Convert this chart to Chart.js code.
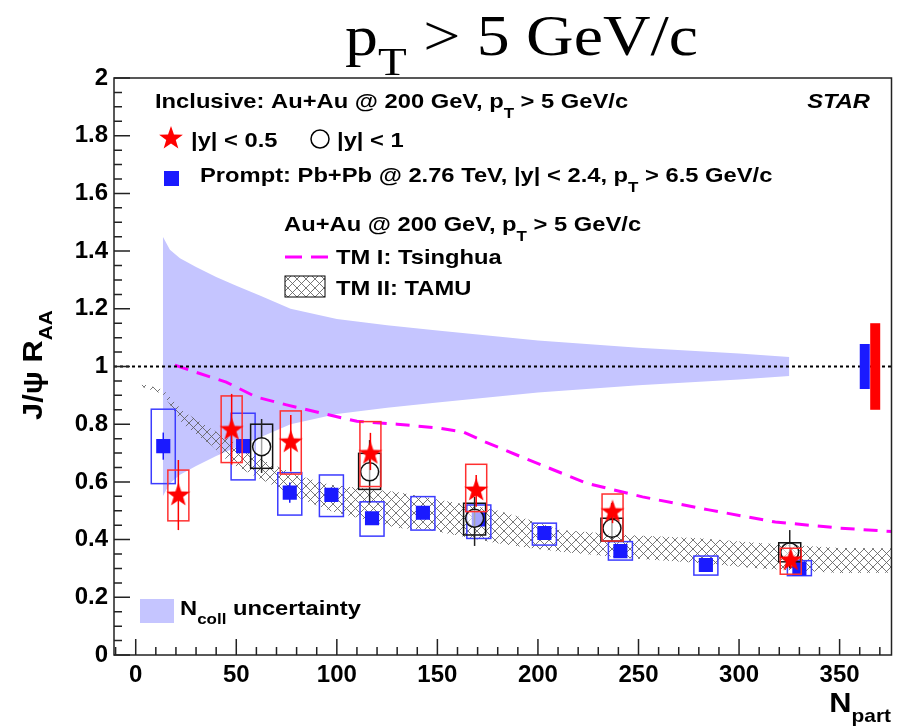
<!DOCTYPE html>
<html>
<head>
<meta charset="utf-8">
<script src="https://cdn.jsdelivr.net/npm/chart.js@4.4.1/dist/chart.umd.min.js"></script>
<style>
  html, body { margin: 0; padding: 0; background: #fff; }
  canvas { display: block; }
</style>
</head>
<body>
<canvas id="raaChart" width="902" height="727"></canvas>
<script>
const SANS = '"Liberation Sans", Arial, Helvetica, sans-serif';
const SERIF = '"Liberation Serif", "Times New Roman", serif';

// axis range and tick labels
const xMin = -10.8;
const xMax = 375.8;
const xTicks = [0, 50, 100, 150, 200, 250, 300, 350];
const yTicks = [0, 0.2, 0.4, 0.6, 0.8, 1, 1.2, 1.4, 1.6, 1.8, 2];

// STAR inclusive, |y| < 0.5 (red stars)
const starNpart = [21.2, 47.7, 77.1, 116.7, 169.3, 237.1, 325.7];
const starRaa = [0.555, 0.782, 0.739, 0.699, 0.572, 0.497, 0.33];
const starStatLo = [0.433, 0.66, 0.636, 0.641, 0.514, 0.457, 0.30];
const starStatHi = [0.676, 0.905, 0.832, 0.77, 0.624, 0.527, 0.36];
const starSysLo = [0.465, 0.667, 0.627, 0.584, 0.497, 0.395, 0.28];
const starSysHi = [0.641, 0.898, 0.846, 0.809, 0.661, 0.558, 0.37];

// STAR inclusive, |y| < 1 (open circles)
const circNpart = [62.6, 116.3, 168.5, 236.8, 325.2];
const circRaa = [0.722, 0.635, 0.474, 0.439, 0.357];
const circStatLo = [0.631, 0.528, 0.378, 0.40, 0.30];
const circStatHi = [0.818, 0.745, 0.548, 0.527, 0.433];
const circSysLo = [0.647, 0.574, 0.416, 0.395, 0.323];
const circSysHi = [0.80, 0.699, 0.526, 0.474, 0.389];

// CMS prompt, Pb+Pb 2.76 TeV (blue squares)
const cmsNpart = [13.7, 53.4, 76.6, 97.3, 117.5, 142.8, 170.6, 203.2, 241, 283.5, 330];
const cmsRaa = [0.724, 0.724, 0.563, 0.555, 0.474, 0.493, 0.470, 0.423, 0.360, 0.312, 0.300];
const cmsStatLo = [0.677, 0.704, 0.528, 0.53, 0.454, 0.473, 0.45, 0.408, 0.345, 0.30, 0.29];
const cmsStatHi = [0.771, 0.744, 0.598, 0.58, 0.494, 0.513, 0.49, 0.438, 0.375, 0.324, 0.31];
const cmsSysLo = [0.594, 0.607, 0.485, 0.48, 0.412, 0.433, 0.404, 0.381, 0.329, 0.277, 0.275];
const cmsSysHi = [0.852, 0.838, 0.632, 0.624, 0.531, 0.549, 0.52, 0.457, 0.393, 0.343, 0.327];

// Ncoll uncertainty band
const ncollNpart = [13.5, 17, 22, 30, 40, 50, 62, 77, 100, 125, 150, 200, 250, 300, 325];
const ncollHi = [1.45, 1.405, 1.375, 1.345, 1.31, 1.28, 1.245, 1.2, 1.165, 1.143, 1.125, 1.09, 1.065, 1.045, 1.033];
const ncollLo = [0.55, 0.595, 0.625, 0.655, 0.69, 0.72, 0.755, 0.8, 0.835, 0.857, 0.875, 0.91, 0.935, 0.955, 0.967];

// TM I: Tsinghua
const tsinghuaNpart = [19.5, 30, 45, 60, 75, 92, 110, 130, 150, 163, 174, 192, 224, 252, 285, 318, 350, 376];
const tsinghuaRaa = [1.005, 0.98, 0.946, 0.894, 0.867, 0.839, 0.81, 0.80, 0.787, 0.773, 0.738, 0.686, 0.596, 0.548, 0.503, 0.461, 0.44, 0.428];

// TM II: TAMU band
const tamuNpart = [3, 13.5, 23.5, 38.5, 47, 63, 80, 96.5, 130, 146, 179, 196, 211, 244, 280, 310, 350, 376];
const tamuLo = [0.93, 0.905, 0.80, 0.722, 0.665, 0.607, 0.548, 0.50, 0.44, 0.433, 0.388, 0.371, 0.358, 0.336, 0.319, 0.30, 0.284, 0.285];
const tamuHi = [0.94, 0.92, 0.845, 0.78, 0.745, 0.676, 0.624, 0.59, 0.565, 0.544, 0.503, 0.468, 0.433, 0.416, 0.405, 0.388, 0.371, 0.37];

// global uncertainties drawn at the right edge
const globalNpart = [362.5, 367.7];
const globalHalf = [0.078, 0.15];
const globalColors = ['#1a1aff', '#ff0000'];

const pts = (xs, ys) => xs.map((x, i) => ({ x: x, y: ys[i] }));

// filled star marker
const starImg = document.createElement('canvas');
starImg.width = 26;
starImg.height = 26;
(function () {
  const c = starImg.getContext('2d');
  c.fillStyle = '#ff0000';
  c.beginPath();
  for (let i = 0; i < 10; i++) {
    const r = i % 2 === 0 ? 12.5 : 5;
    const a = -Math.PI / 2 + i * Math.PI / 5;
    const px = 13 + r * Math.cos(a), py = 13.5 + r * Math.sin(a);
    if (i === 0) c.moveTo(px, py); else c.lineTo(px, py);
  }
  c.closePath();
  c.fill();
})();

// cross hatch for the TAMU band
function makeHatch() {
  const p = document.createElement('canvas');
  p.width = 9;
  p.height = 9;
  const c = p.getContext('2d');
  c.strokeStyle = 'rgba(95,95,95,0.85)';
  c.lineWidth = 1;
  c.beginPath();
  c.moveTo(0, 0); c.lineTo(9, 9);
  c.moveTo(0, 9); c.lineTo(9, 0);
  c.stroke();
  return document.getElementById('raaChart').getContext('2d').createPattern(p, 'repeat');
}
const hatch = makeHatch();

function drawRich(ctx, x, y, parts, sx) {
  ctx.save();
  ctx.translate(x, y);
  ctx.scale(sx || 1, 1);
  let cx = 0;
  for (const p of parts) {
    ctx.font = p.font;
    ctx.fillText(p.text, cx, p.dy || 0);
    cx += ctx.measureText(p.text).width;
  }
  ctx.restore();
}

function richWidth(ctx, parts) {
  let w = 0;
  for (const p of parts) {
    ctx.font = p.font;
    w += ctx.measureText(p.text).width;
  }
  return w;
}

const B21 = `bold 21px ${SANS}`;
const B15 = `bold 15px ${SANS}`;

const errorBoxes = {
  id: 'errorBoxes',
  beforeDatasetDraw(chart, args) {
    const ds = chart.data.datasets[args.index];
    if (!ds.errs) return;
    const { ctx } = chart;
    const xs = chart.scales.x, ys = chart.scales.y;
    const e = ds.errs;
    ctx.save();
    ctx.lineWidth = 1.5;
    ctx.strokeStyle = e.boxColor;
    ds.data.forEach((p, i) => {
      const px = xs.getPixelForValue(p.x);
      const top = ys.getPixelForValue(e.sysHi[i]);
      const bot = ys.getPixelForValue(e.sysLo[i]);
      ctx.strokeRect(px - e.half, top, e.half * 2, bot - top);
    });
    ctx.strokeStyle = e.barColor;
    ds.data.forEach((p, i) => {
      const px = xs.getPixelForValue(p.x);
      ctx.beginPath();
      ctx.moveTo(px, ys.getPixelForValue(e.statHi[i]));
      ctx.lineTo(px, ys.getPixelForValue(e.statLo[i]));
      ctx.stroke();
    });
    ctx.restore();
  },
};

const decorations = {
  id: 'decorations',
  afterDraw(chart) {
    const { ctx, chartArea: a } = chart;
    const xs = chart.scales.x, ys = chart.scales.y;

    // global uncertainty boxes
    ctx.save();
    globalNpart.forEach((n, i) => {
      const px = xs.getPixelForValue(n);
      const top = ys.getPixelForValue(1 + globalHalf[i]);
      const bot = ys.getPixelForValue(1 - globalHalf[i]);
      ctx.fillStyle = globalColors[i];
      ctx.fillRect(px - 5, top, 10, bot - top);
    });

    // frame and inward ticks
    ctx.strokeStyle = '#222';
    ctx.lineWidth = 1.5;
    ctx.strokeRect(a.left, a.top, a.right - a.left, a.bottom - a.top);
    ctx.beginPath();
    for (let v = -10; v <= 370; v += 10) {
      const px = xs.getPixelForValue(v);
      const len = v % 50 === 0 ? 16 : 8;
      ctx.moveTo(px, a.bottom);
      ctx.lineTo(px, a.bottom - len);
    }
    for (let i = 0; i <= 40; i++) {
      const py = ys.getPixelForValue(i * 0.05);
      const len = i % 4 === 0 ? 16 : 8;
      ctx.moveTo(a.left, py);
      ctx.lineTo(a.left + len, py);
    }
    ctx.stroke();

    ctx.fillStyle = '#000';
    ctx.textBaseline = 'alphabetic';
    ctx.textAlign = 'left';

    // title
    const title = [
      { text: 'p', font: `56px ${SERIF}` },
      { text: 'T', font: `40px ${SERIF}`, dy: 20 },
      { text: ' > 5 GeV/c', font: `56px ${SERIF}` },
    ];
    drawRich(ctx, 345, 55, title, 353 / richWidth(ctx, title));

    // axis titles
    const xt = [
      { text: 'N', font: `bold 28px ${SANS}` },
      { text: 'part', font: `bold 19px ${SANS}`, dy: 10 },
    ];
    drawRich(ctx, 891 - richWidth(ctx, xt) * 1.1, 712, xt, 1.1);
    ctx.save();
    ctx.translate(42, 420);
    ctx.rotate(-Math.PI / 2);
    drawRich(ctx, 0, 0, [
      { text: 'J/\u03c8 R', font: `bold 28px ${SANS}` },
      { text: 'AA', font: `bold 19px ${SANS}`, dy: 10 },
    ], 1.1);
    ctx.restore();

    // legend
    const sx = 1.13;
    drawRich(ctx, 155, 108, [
      { text: 'Inclusive: Au+Au @ 200 GeV, p', font: B21 },
      { text: 'T', font: B15, dy: 10 },
      { text: ' > 5 GeV/c', font: B21 },
    ], sx);
    ctx.font = `bold italic 21px ${SANS}`;
    const sw = ctx.measureText('STAR').width * sx;
    drawRich(ctx, 870 - sw, 108, [{ text: 'STAR', font: `bold italic 21px ${SANS}` }], sx);

    ctx.drawImage(starImg, 171 - 13, 138 - 13);
    drawRich(ctx, 191, 147, [{ text: '|y| < 0.5', font: B21 }], sx);
    ctx.strokeStyle = '#000';
    ctx.lineWidth = 1.5;
    ctx.beginPath();
    ctx.arc(320, 139, 9, 0, Math.PI * 2);
    ctx.stroke();
    drawRich(ctx, 337, 147, [{ text: '|y| < 1', font: B21 }], sx);

    ctx.fillStyle = '#1a1aff';
    ctx.fillRect(164, 171, 15, 15);
    ctx.fillStyle = '#000';
    drawRich(ctx, 200, 182, [
      { text: 'Prompt: Pb+Pb @ 2.76 TeV, |y| < 2.4, p', font: B21 },
      { text: 'T', font: B15, dy: 10 },
      { text: ' > 6.5 GeV/c', font: B21 },
    ], sx);

    drawRich(ctx, 284, 231, [
      { text: 'Au+Au @ 200 GeV, p', font: B21 },
      { text: 'T', font: B15, dy: 10 },
      { text: ' > 5 GeV/c', font: B21 },
    ], sx);

    ctx.strokeStyle = '#ff00ff';
    ctx.lineWidth = 3;
    ctx.setLineDash([17, 9]);
    ctx.beginPath();
    ctx.moveTo(285, 257);
    ctx.lineTo(328, 257);
    ctx.stroke();
    ctx.setLineDash([]);
    drawRich(ctx, 336, 264, [{ text: 'TM I: Tsinghua', font: B21 }], sx);

    ctx.fillStyle = hatch;
    ctx.fillRect(285, 276, 40, 21);
    ctx.strokeStyle = '#000';
    ctx.lineWidth = 1;
    ctx.strokeRect(285, 276, 40, 21);
    ctx.fillStyle = '#000';
    drawRich(ctx, 336, 295, [{ text: 'TM II: TAMU', font: B21 }], sx);

    ctx.fillStyle = 'rgb(197,197,255)';
    ctx.fillRect(140, 599, 34, 24);
    ctx.fillStyle = '#000';
    drawRich(ctx, 180, 615, [
      { text: 'N', font: B21 },
      { text: 'coll', font: B15, dy: 9 },
      { text: ' uncertainty', font: B21 },
    ], sx);
    ctx.restore();
  },
};

const tickFont = { family: SANS, size: 24, weight: 'bold' };

new Chart(document.getElementById('raaChart'), {
  type: 'line',
  data: {
    datasets: [
      {
        data: pts(ncollNpart, ncollHi),
        borderWidth: 0,
        borderColor: 'rgba(0,0,0,0)',
        pointRadius: 0,
        fill: false,
        order: 10,
      },
      {
        data: pts(ncollNpart, ncollLo),
        borderWidth: 0,
        borderColor: 'rgba(0,0,0,0)',
        backgroundColor: 'rgb(197,197,255)',
        pointRadius: 0,
        fill: '-1',
        order: 10,
      },
      {
        data: pts(tamuNpart, tamuHi),
        borderWidth: 0,
        borderColor: 'rgba(0,0,0,0)',
        pointRadius: 0,
        fill: false,
        order: 9,
      },
      {
        data: pts(tamuNpart, tamuLo),
        borderWidth: 0,
        borderColor: 'rgba(0,0,0,0)',
        backgroundColor: hatch,
        pointRadius: 0,
        fill: '-1',
        order: 9,
      },
      {
        data: pts(tsinghuaNpart, tsinghuaRaa),
        borderColor: '#ff00ff',
        borderWidth: 3,
        borderDash: [14, 9],
        pointRadius: 0,
        fill: false,
        order: 8,
      },
      {
        data: [{ x: xMin, y: 1 }, { x: xMax, y: 1 }],
        borderColor: '#000',
        borderWidth: 2,
        borderDash: [3, 3],
        pointRadius: 0,
        fill: false,
        order: 7,
      },
      {
        data: pts(cmsNpart, cmsRaa),
        showLine: false,
        pointStyle: 'rect',
        pointRadius: 10,
        pointBackgroundColor: '#1a1aff',
        pointBorderWidth: 0,
        order: 3,
        errs: { statLo: cmsStatLo, statHi: cmsStatHi, sysLo: cmsSysLo, sysHi: cmsSysHi,
                boxColor: '#3c3cff', barColor: '#1a1aff', half: 12 },
      },
      {
        data: pts(circNpart, circRaa),
        showLine: false,
        pointStyle: 'circle',
        pointRadius: 9,
        pointBackgroundColor: 'rgba(255,255,255,0.6)',
        pointBorderColor: '#111',
        pointBorderWidth: 1.5,
        order: 2,
        errs: { statLo: circStatLo, statHi: circStatHi, sysLo: circSysLo, sysHi: circSysHi,
                boxColor: '#111', barColor: '#222', half: 11 },
      },
      {
        data: pts(starNpart, starRaa),
        showLine: false,
        pointStyle: starImg,
        order: 1,
        errs: { statLo: starStatLo, statHi: starStatHi, sysLo: starSysLo, sysHi: starSysHi,
                boxColor: '#ff3030', barColor: '#ff0000', half: 10.5 },
      },
    ],
  },
  options: {
    responsive: false,
    animation: false,
    events: [],
    devicePixelRatio: 1,
    layout: { padding: { top: 78, right: 10, left: 0, bottom: 0 } },
    plugins: {
      legend: { display: false },
      tooltip: { enabled: false },
      title: { display: false },
    },
    scales: {
      x: {
        type: 'linear',
        min: xMin,
        max: xMax,
        afterBuildTicks: (s) => { s.ticks = xTicks.map((v) => ({ value: v })); },
        afterFit: (s) => { s.height = 72; },
        grid: { display: false, drawTicks: false },
        border: { display: false },
        ticks: {
          font: tickFont,
          color: '#000',
          padding: 6,
          maxRotation: 0,
          autoSkip: false,
          callback: (v) => String(v),
        },
      },
      y: {
        type: 'linear',
        min: 0,
        max: 2,
        afterBuildTicks: (s) => { s.ticks = yTicks.map((v) => ({ value: v })); },
        afterFit: (s) => { s.width = 114; },
        grid: { display: false, drawTicks: false },
        border: { display: false },
        ticks: {
          font: tickFont,
          color: '#000',
          padding: 6,
          callback: (v) => String(v),
        },
      },
    },
  },
  plugins: [errorBoxes, decorations],
});
</script>
</body>
</html>
